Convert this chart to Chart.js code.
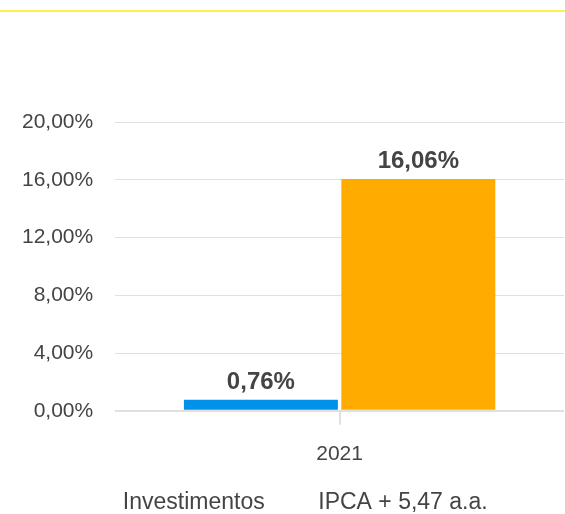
<!DOCTYPE html>
<html>
<head>
<meta charset="utf-8">
<script src="https://cdn.jsdelivr.net/npm/chart.js@4"></script>
<style>
  html, body { margin: 0; padding: 0; background: #fff; }
  #wrap { position: relative; width: 565px; height: 514px; }
  #topline { position: absolute; left: 0; top: 10px; width: 565px; height: 2px; background: #ffee58; }
  canvas { position: absolute; left: 0; top: 0; }
</style>
</head>
<body>
<div id="wrap">
  <div id="topline"></div>
  <canvas id="c" width="565" height="514"></canvas>
</div>
<script>
const categories = ['2021'];
const seriesNames = ['Investimentos', 'IPCA + 5,47 a.a.'];
const investimentos = [0.76];
const ipca = [16.06];
const yTicks = [0, 4, 8, 12, 16, 20];

const fmt = v => v.toFixed(2).replace('.', ',') + '%';
const TEXT = '#444444';

Chart.defaults.font.family = "'Liberation Sans', Arial, sans-serif";
Chart.defaults.color = TEXT;

const valueLabels = {
  id: 'valueLabels',
  afterDatasetsDraw(chart) {
    const ctx = chart.ctx;
    ctx.save();
    ctx.font = "bold 24px 'Liberation Sans', Arial, sans-serif";
    ctx.fillStyle = TEXT;
    ctx.textAlign = 'center';
    ctx.textBaseline = 'alphabetic';
    chart.data.datasets.forEach((ds, i) => {
      const meta = chart.getDatasetMeta(i);
      meta.data.forEach((el, j) => {
        ctx.fillText(fmt(ds.data[j]), el.x, el.y - 11);
      });
    });
    ctx.restore();
  }
};

new Chart(document.getElementById('c'), {
  type: 'bar',
  data: {
    labels: categories,
    datasets: [
      { label: seriesNames[0], data: investimentos, backgroundColor: '#0091ea',
        categoryPercentage: 0.7016, barPercentage: 0.978 },
      { label: seriesNames[1], data: ipca, backgroundColor: '#ffab00',
        categoryPercentage: 0.7016, barPercentage: 0.978 }
    ]
  },
  options: {
    responsive: false,
    animation: false,
    layout: { padding: { top: 122, right: 1, left: 0, bottom: -10 } },
    plugins: {
      tooltip: { enabled: false },
      legend: {
        position: 'bottom',
        labels: {
          font: { size: 23 },
          color: TEXT,
          boxWidth: 35,
          padding: 7,
          generateLabels(chart) {
            return chart.data.datasets.map((ds, i) => ({
              text: ds.label,
              fillStyle: 'rgba(0,0,0,0)',
              strokeStyle: 'rgba(0,0,0,0)',
              lineWidth: 0,
              hidden: false,
              datasetIndex: i,
              fontColor: TEXT
            }));
          }
        }
      }
    },
    scales: {
      x: {
        border: { display: false },
        grid: {
          display: true, drawOnChartArea: false, drawTicks: true,
          tickLength: 14, offset: false, color: '#e0e0e0', lineWidth: 2
        },
        ticks: { font: { size: 21 }, color: TEXT, padding: 17 }
      },
      y: {
        min: 0, max: 20,
        afterBuildTicks(axis) { axis.ticks = yTicks.map(v => ({ value: v })); },
        border: { display: false },
        grid: {
          drawTicks: false,
          color: '#e0e0e0',
          lineWidth: c => (c.tick && c.tick.value === 0 ? 2 : 1)
        },
        ticks: { font: { size: 21 }, color: TEXT, padding: 22, callback: v => fmt(v) }
      }
    }
  },
  plugins: [valueLabels]
});
</script>
</body>
</html>
